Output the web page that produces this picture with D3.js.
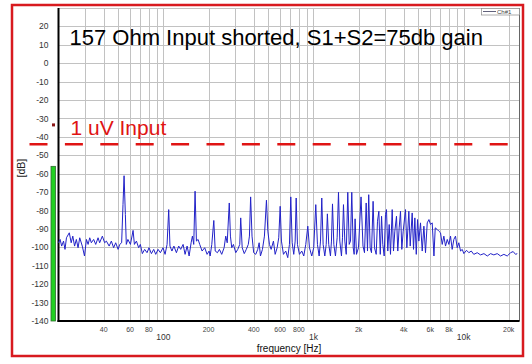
<!DOCTYPE html>
<html>
<head>
<meta charset="utf-8">
<script src="https://d3js.org/d3.v7.min.js"></script>
<style>
body { margin: 0; background: #fff; }
svg { display: block; font-family: "Liberation Sans", Arial, sans-serif; }
</style>
</head>
<body>
<div id="chart"></div>
<script>

var width = 532, height = 364;
var plot = {left: 58.5, right: 519.5, top: 8, bottom: 321};

// spectrum: [frequency Hz, level dB]
var spectrum = [
  [20.0,-97.5],[20.5,-95.7],[21.0,-99.3],[21.6,-96.6],[22.1,-101.1],[22.6,-94.8],[23.6,-92.1],[24.3,-97.5],
  [24.9,-93.9],[25.6,-99.3],[26.3,-95.7],[27.0,-100.2],[27.7,-94.8],[28.8,-99.3],[29.8,-104.7],[30.7,-95.7],
  [31.5,-98.4],[32.3,-94.8],[33.1,-97.5],[34.3,-95.7],[35.4,-98.4],[36.7,-94.8],[37.6,-97.5],[39.2,-93.9],
  [40.6,-97.5],[41.7,-96.6],[43.5,-99.3],[45.0,-96.6],[46.6,-100.2],[48.1,-97.5],[49.9,-101.1],[51.2,-98.4],
  [52.7,-97.5],[53.8,-76.8],[54.7,-61.1],[55.8,-82.2],[56.6,-98.4],[58.0,-95.7],[60.3,-98.4],[62.8,-90.8],
  [64.1,-98.4],[66.1,-96.6],[68.4,-100.2],[70.2,-98.4],[72.4,-103.4],[75.0,-101.1],[77.8,-102.9],[80.2,-100.2],
  [83.2,-103.4],[86.2,-101.1],[88.9,-103.8],[92.2,-101.1],[95.5,-102.9],[99.5,-100.2],[102.6,-103.8],[105.8,-98.4],
  [108.5,-79.5],[110.6,-99.3],[114.0,-102.0],[117.5,-99.3],[122.1,-102.9],[126.5,-99.3],[130.4,-101.1],[135.3,-98.4],
  [139.5,-103.8],[143.9,-99.3],[148.4,-104.7],[153.0,-97.5],[156.1,-93.9],[159.3,-98.4],[162.6,-69.5],[166.0,-96.6],
  [170.3,-95.7],[174.6,-98.4],[181.1,-102.0],[188.5,-100.2],[195.5,-103.8],[201.7,-102.0],[204.9,-104.7],[210.1,-98.4],
  [216.7,-85.4],[221.5,-102.0],[229.1,-102.9],[236.2,-101.1],[244.7,-103.8],[253.9,-100.2],[260.3,-93.9],[266.2,-97.5],
  [274.8,-75.9],[279.7,-93.9],[285.4,-100.2],[292.8,-98.4],[303.5,-102.9],[313.0,-101.1],[322.7,-98.4],[327.5,-84.0],
  [335.0,-100.2],[345.8,-103.4],[356.8,-101.1],[367.9,-98.4],[374.4,-93.9],[381.3,-72.6],[389.6,-93.9],[399.6,-102.9],
  [412.4,-103.8],[425.3,-101.1],[434.6,-97.5],[443.3,-104.7],[457.1,-101.1],[471.3,-93.9],[486.0,-74.4],[496.6,-91.2],
  [509.0,-98.4],[522.3,-101.1],[541.2,-96.6],[555.5,-103.8],[572.8,-100.2],[587.0,-94.8],[600.1,-77.7],[611.8,-96.6],
  [631.0,-103.8],[653.6,-102.0],[674.0,-105.6],[691.8,-98.4],[705.9,-72.6],[721.3,-97.5],[739.0,-103.8],[755.1,-96.6],
  [767.0,-73.2],[782.0,-98.4],[806.4,-103.8],[835.8,-102.0],[861.8,-104.7],[888.6,-98.4],[916.7,-88.5],[940.4,-100.2],
  [974.1,-104.7],[1004,-100.2],[1036,-76.8],[1063,-98.4],[1091,-104.7],[1114,-96.6],[1136,-73.2],[1160,-98.4],
  [1190,-104.7],[1216,-98.4],[1238,-81.8],[1264,-98.4],[1298,-104.7],[1318,-96.6],[1339,-76.4],[1367,-98.4],
  [1401,-104.7],[1438,-94.8],[1468,-70.1],[1498,-96.6],[1537,-104.7],[1561,-94.8],[1585,-76.8],[1618,-96.6],
  [1653,-103.8],[1693,-70.1],[1730,-98.4],[1765,-96.6],[1800,-70.1],[1840,-100.2],[1867,-103.8],[1894,-84.5],
  [1935,-103.8],[1995,-100.2],[2075,-72.6],[2138,-99.3],[2188,-102.9],[2245,-75.9],[2291,-102.0],[2334,-71.4],
  [2386,-100.2],[2436,-102.9],[2497,-75.0],[2550,-100.2],[2618,-103.8],[2671,-85.8],[2727,-80.4],[2787,-103.8],
  [2843,-83.1],[2897,-98.4],[2960,-104.7],[3019,-82.2],[3066,-79.5],[3128,-102.0],[3196,-87.6],[3260,-103.8],
  [3347,-79.5],[3415,-102.0],[3485,-91.2],[3575,-83.1],[3647,-102.0],[3724,-89.4],[3802,-80.4],[3879,-101.1],
  [3962,-91.2],[4105,-79.5],[4191,-100.2],[4320,-80.4],[4412,-99.3],[4548,-81.3],[4642,-101.1],[4738,-84.0],
  [4842,-103.8],[4937,-84.9],[5037,-96.6],[5168,-86.7],[5306,-102.0],[5442,-88.5],[5580,-102.9],[5729,-86.7],
  [5880,-84.9],[6026,-87.6],[6184,-86.7],[6350,-104.7],[6476,-89.4],[6678,-90.3],[6846,-91.2],[7025,-92.1],
  [7211,-98.4],[7393,-93.9],[7586,-99.3],[7790,-95.7],[7987,-98.4],[8191,-93.9],[8400,-101.1],[8620,-95.7],
  [8841,-93.9],[9074,-100.2],[9305,-97.5],[9550,-102.0],[9803,-101.1],[10050,-103.4],[10470,-101.6],[10850,-102.9],
  [11260,-102.0],[11700,-103.8],[12340,-102.9],[12980,-104.1],[13680,-103.4],[14400,-104.7],[15140,-103.4],[15920,-104.1],
  [16770,-103.4],[17650,-104.7],[18570,-103.8],[19550,-104.7],[20570,-102.9],[21420,-102.3],[22220,-103.8],[22800,-103.4]
];

var dbTicks = [20, 10, 0, -10, -20, -30, -40, -50, -60, -70, -80, -90, -100, -110, -120, -130, -140];
var gridHz = [30, 40, 50, 60, 70, 80, 90, 100, 200, 300, 400, 500, 600, 700, 800, 900,
              1000, 2000, 3000, 4000, 5000, 6000, 7000, 8000, 9000, 10000, 20000];
var upperTicks = [40, 60, 80, 200, 400, 600, 800, 2000, 4000, 6000, 8000, 20000];
var upperLabels = ["40", "60", "80", "200", "400", "600", "800", "2k", "4k", "6k", "8k", "20k"];
var lowerTicks = [100, 1000, 10000];
var lowerLabels = ["100", "1k", "10k"];

var meterLevel = -56, meterPeak = -33.5, inputLevel = -44;
var titleText = "157 Ohm Input shorted, S1+S2=75db gain";
var inputText = "1 uV Input";

var svg = d3.select("#chart")
  .append("svg")
    .attr("width", width)
    .attr("height", height);

var x = d3.scaleLog().domain([20, 23600]).range([plot.left, plot.right]);
var y = d3.scaleLinear().domain([-140, 30]).range([plot.bottom, plot.top]);

// grid
svg.append("g")
  .selectAll("line")
  .data(gridHz)
  .enter().append("line")
    .attr("x1", function(d) { return Math.round(x(d)) + 0.5; })
    .attr("x2", function(d) { return Math.round(x(d)) + 0.5; })
    .attr("y1", plot.top)
    .attr("y2", plot.bottom)
    .attr("stroke", "#c2c2c2")
    .attr("stroke-width", 1);

svg.append("g")
  .selectAll("line")
  .data(dbTicks.concat([30]))
  .enter().append("line")
    .attr("x1", plot.left)
    .attr("x2", plot.right)
    .attr("y1", function(d) { return Math.round(y(d)) + 0.5; })
    .attr("y2", function(d) { return Math.round(y(d)) + 0.5; })
    .attr("stroke", "#c2c2c2")
    .attr("stroke-width", 1);

// frame
svg.append("line").attr("x1", plot.right).attr("x2", plot.right).attr("y1", plot.top).attr("y2", plot.bottom)
  .attr("stroke", "#666").attr("stroke-width", 1);
svg.append("line").attr("x1", plot.left).attr("x2", plot.left).attr("y1", plot.top).attr("y2", plot.bottom + 1)
  .attr("stroke", "#000").attr("stroke-width", 2);
svg.append("line").attr("x1", plot.left - 1).attr("x2", plot.right).attr("y1", plot.bottom).attr("y2", plot.bottom)
  .attr("stroke", "#000").attr("stroke-width", 2);

// y labels
svg.append("g")
  .selectAll("text")
  .data(dbTicks)
  .enter().append("text")
    .attr("x", 48.5)
    .attr("y", function(d) { return y(d); })
    .attr("dy", "0.36em")
    .attr("text-anchor", "end")
    .attr("font-size", "8.5px")
    .attr("fill", "#333")
    .text(function(d) { return d; });

svg.append("text")
  .attr("transform", "translate(21," + y(-57) + ") rotate(-90)")
  .attr("text-anchor", "middle")
  .attr("dy", "0.35em")
  .attr("font-size", "10.5px")
  .attr("fill", "#222")
  .text("[dB]");

// x labels
svg.append("g")
  .selectAll("text")
  .data(upperTicks)
  .enter().append("text")
    .attr("x", function(d) { return x(d); })
    .attr("y", 332)
    .attr("text-anchor", "middle")
    .attr("font-size", "7px")
    .attr("fill", "#444")
    .text(function(d, i) { return upperLabels[i]; });

svg.append("g")
  .selectAll("text")
  .data(lowerTicks)
  .enter().append("text")
    .attr("x", function(d) { return x(d); })
    .attr("y", 339.5)
    .attr("text-anchor", "middle")
    .attr("font-size", "8.5px")
    .attr("fill", "#333")
    .text(function(d, i) { return lowerLabels[i]; });

svg.append("text")
  .attr("x", 289)
  .attr("y", 351.5)
  .attr("text-anchor", "middle")
  .attr("font-size", "10px")
  .attr("fill", "#111")
  .text("frequency [Hz]");

// level meter
svg.append("rect")
  .attr("x", 51)
  .attr("y", y(meterLevel))
  .attr("width", 4.5)
  .attr("height", plot.bottom - y(meterLevel))
  .attr("fill", "#22d022")
  .attr("stroke", "#2f6b2f")
  .attr("stroke-width", 0.8);

svg.append("rect")
  .attr("x", 52)
  .attr("y", y(meterPeak) - 1.5)
  .attr("width", 3)
  .attr("height", 3)
  .attr("fill", "#8a1616");

// spectrum
var line = d3.line()
  .x(function(d) { return x(d[0]); })
  .y(function(d) { return y(d[1]); });

svg.append("path")
  .datum(spectrum)
  .attr("d", line)
  .attr("fill", "none")
  .attr("stroke", "#2222c8")
  .attr("stroke-width", 1)
  .attr("stroke-linejoin", "round");

// 1 uV reference line
svg.append("line")
  .attr("x1", 29.5)
  .attr("x2", 509)
  .attr("y1", y(inputLevel))
  .attr("y2", y(inputLevel))
  .attr("stroke", "#e01414")
  .attr("stroke-width", 2.5)
  .attr("stroke-dasharray", "18,17.4");

svg.append("text")
  .attr("x", 70.5)
  .attr("y", 134.5)
  .attr("font-size", "21px")
  .attr("fill", "#e01414")
  .text(inputText);

svg.append("text")
  .attr("x", 69.5)
  .attr("y", 45)
  .attr("font-size", "22px")
  .attr("fill", "#000")
  .text(titleText);

// legend
svg.append("rect")
  .attr("x", 481.5).attr("y", 8.5).attr("width", 38).attr("height", 6.5)
  .attr("fill", "#fff").attr("stroke", "#8a8a8a").attr("stroke-width", 0.7);
svg.append("line")
  .attr("x1", 483).attr("x2", 496).attr("y1", 11.5).attr("y2", 11.5)
  .attr("stroke", "#3a3a5a").attr("stroke-width", 0.8);
svg.append("text")
  .attr("x", 497).attr("y", 14)
  .attr("font-size", "6px").attr("fill", "#444")
  .text("Ch#1");

// outer red border
svg.append("rect")
  .attr("x", 12)
  .attr("y", 5)
  .attr("width", 511)
  .attr("height", 351)
  .attr("fill", "none")
  .attr("stroke", "#d81a1f")
  .attr("stroke-width", 2.5);

</script>
</body>
</html>
